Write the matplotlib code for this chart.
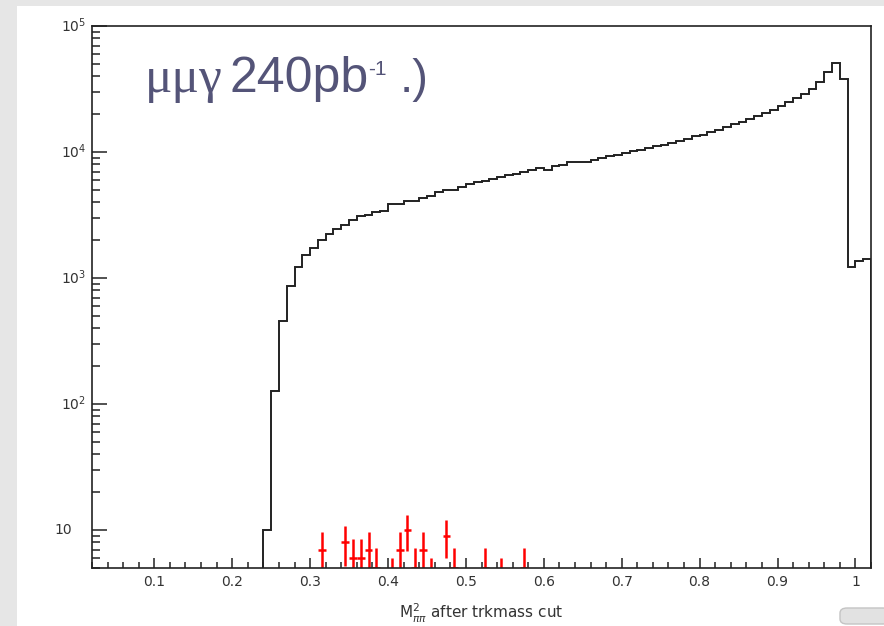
import numpy as np
import matplotlib.pyplot as plt
from matplotlib.patches import Rectangle, FancyBboxPatch
from matplotlib.ticker import FixedLocator, MultipleLocator, LogLocator, NullFormatter

# ------------------------------------------------------------
# data (bins of 0.01 from 0.24 to 1.02)
# ------------------------------------------------------------
bin_edges = np.linspace(0.24, 1.02, 79)
mc_counts = [
    10, 127, 455, 865, 1225, 1520, 1745, 2010, 2230, 2455,
    2640, 2900, 3120, 3190, 3340, 3420, 3880, 3880, 4055, 4055,
    4285, 4500, 4840, 5000, 5000, 5310, 5580, 5745, 5930, 6070,
    6300, 6530, 6740, 6900, 7160, 7430, 7255, 7760, 7950, 8300,
    8300, 8300, 8700, 8900, 9380, 9500, 9850, 10100, 10420, 10720,
    11080, 11400, 11830, 12300, 12740, 13300, 13720, 14390, 15030, 15770,
    16570, 17290, 18160, 19180, 20380, 21680, 23050, 24950, 26850, 29100,
    31900, 35960, 43260, 50500, 38300, 1225, 1365, 1425,
]

# red data points (bin centres, counts)
data_x = [0.315, 0.345, 0.355, 0.365, 0.375, 0.385, 0.405, 0.415, 0.425,
          0.435, 0.445, 0.455, 0.475, 0.485, 0.525, 0.545, 0.575]
data_n = [7, 8, 6, 6, 7, 5, 4, 7, 10, 5, 7, 4, 9, 5, 5, 4, 5]

xtick_vals = [0.1, 0.2, 0.3, 0.4, 0.5, 0.6, 0.7, 0.8, 0.9, 1.0]
xtick_labels = ["0.1", "0.2", "0.3", "0.4", "0.5", "0.6", "0.7", "0.8", "0.9", "1"]
ytick_vals = [10, 1e2, 1e3, 1e4, 1e5]
ytick_labels = ["10", r"$\mathregular{10^{2}}$", r"$\mathregular{10^{3}}$",
                r"$\mathregular{10^{4}}$", r"$\mathregular{10^{5}}$"]

W, H = 884, 626


def px(x, y):
    return x / W, 1 - y / H


# ------------------------------------------------------------
# figure + slide background
# ------------------------------------------------------------
fig = plt.figure(figsize=(W / 100, H / 100), dpi=100, facecolor="#e6e6e6")
fig.add_artist(Rectangle(px(17, 626), (W - 17) / W, (626 - 6) / H,
                         transform=fig.transFigure, facecolor="white",
                         edgecolor="none", zorder=0))
fig.add_artist(FancyBboxPatch(px(840, 624), 50 / W, 16 / H,
                              boxstyle="round,pad=0,rounding_size=0.008",
                              transform=fig.transFigure, facecolor="#e2e2e2",
                              edgecolor="#c4c4c4", lw=1, zorder=1))

ax = fig.add_axes([92 / W, 1 - 568 / H, (871 - 92) / W, (568 - 26) / H])
ax.set_facecolor("white")

# -------- histogram --------
ax.stairs(mc_counts, bin_edges, baseline=1, color="#222222", lw=1.4)

# -------- data with errors --------
ax.errorbar(data_x, data_n, yerr=np.sqrt(data_n), xerr=0.005, fmt="none",
            ecolor="#ff0000", elinewidth=1.8, capsize=0)

ax.set_yscale("log")
ax.set_xlim(0.02, 1.02)
ax.set_ylim(5, 1e5)

# -------- axes styling (ROOT look) --------
for s in ax.spines.values():
    s.set_linewidth(1.2)
    s.set_color("#222222")

ax.xaxis.set_major_locator(FixedLocator(xtick_vals))
ax.set_xticklabels(xtick_labels)
ax.xaxis.set_minor_locator(MultipleLocator(0.02))
ax.yaxis.set_major_locator(FixedLocator(ytick_vals))
ax.yaxis.set_minor_locator(LogLocator(subs=np.arange(2, 10)))
ax.yaxis.set_major_formatter(NullFormatter())
ax.yaxis.set_minor_formatter(NullFormatter())

ax.tick_params(axis="x", which="major", direction="in", length=7, width=1.1,
               labelsize=10, labelcolor="#333333", pad=5, color="#222222")
ax.tick_params(axis="x", which="minor", direction="in", length=4, width=1.1,
               color="#222222")
ax.tick_params(axis="y", which="major", direction="in", length=11, width=1.1,
               color="#222222")
ax.tick_params(axis="y", which="minor", direction="in", length=6, width=1.1,
               color="#222222")

# y labels drawn by hand so "10" sits like ROOT does
ytr = ax.get_yaxis_transform()
for v, lab in zip(ytick_vals, ytick_labels):
    xoff = -20 / 779 if lab == "10" else -6 / 779
    ax.text(xoff, v, lab, transform=ytr, ha="right", va="center",
            fontsize=10, color="#333333")

ax.set_xlabel(r"M$_{\pi\pi}^{\mathregular{2}}$ after trkmass cut",
              fontsize=11, color="#333333")
ax.xaxis.set_label_coords(0.5, -0.062)

# -------- slide title --------
tcol = "#545478"
fig.text(*px(145, 92), "\u03bc\u03bc\u03b3", fontsize=37, color=tcol,
         family="Liberation Serif", va="baseline")
fig.text(*px(229, 92), "240pb", fontsize=36, color=tcol,
         family="Liberation Sans", va="baseline")
fig.text(*px(368, 75), "-1", fontsize=15, color=tcol,
         family="Liberation Sans", va="baseline")
fig.text(*px(400, 92), ".)", fontsize=34, color=tcol,
         family="Liberation Sans", va="baseline")

plt.savefig("out.png", dpi=100, facecolor=fig.get_facecolor())
